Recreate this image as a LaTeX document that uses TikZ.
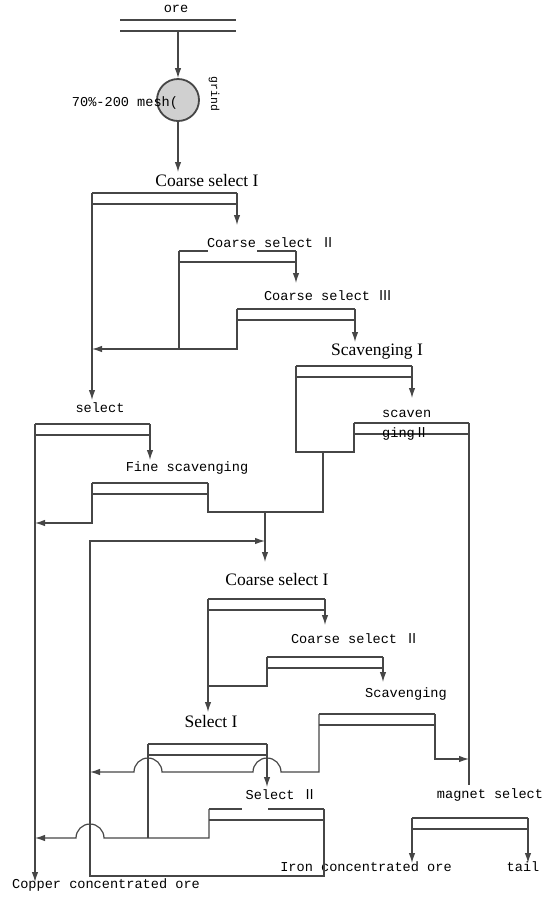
\documentclass[tikz,border=0pt]{standalone}
\usepackage{fontspec}
\setmainfont{Liberation Serif}
\setmonofont{Liberation Mono}
\newfontfamily\cjk{Noto Sans CJK SC}
\usepackage{tikz}
\usetikzlibrary{arrows.meta}

\definecolor{linegray}{RGB}{70,70,70}
\definecolor{millgray}{RGB}{208,208,208}

\begin{document}
\begin{tikzpicture}[x=1pt, y=-1pt, >={Latex[length=10pt,width=6.5pt]},
  flow/.style={draw=linegray, line width=1.2pt},
  cellline/.style={draw=linegray, line width=1.8pt},
  mono/.style={font=\ttfamily\fontsize{13.6}{15}\selectfont, inner sep=0pt},
  serif/.style={font=\rmfamily\fontsize{17.5}{19}\selectfont, inner sep=0pt}]

\useasboundingbox (0,0) rectangle (549,906);

% Cells: name / left / right / top / gap from / gap to
\foreach \n/\xa/\xb/\y/\ga/\gb in {ore/120/236/20/236/236, csA/92/237/193/237/237,
    csB/179/296/251/208/257, csC/237/355/309/355/355, scA/296/412/366/412/412,
    scB/354/469/423/469/469, sel/35/150/424/150/150, fsc/92/208/483/208/208,
    rcA/208/325/599/325/325, rcB/267/383/657/383/383, rsc/319/435/714/435/435,
    slA/148/267/744/267/267, slB/209/324/809/242/268, mag/412/528/818/528/528} {
  \coordinate (\n-l) at (\xa,\y);
  \coordinate (\n-r) at (\xb,\y);
  \draw[cellline] (\xa,\y) -- (\ga,\y) (\gb,\y) -- (\xb,\y);
  \draw[cellline] (\xa,\y+11) -- (\xb,\y+11);
}

% Mill
\node[circle, draw=linegray, fill=millgray, line width=1.8pt, minimum size=42pt, inner sep=0pt] (mill) at (178,100) {};

% Labels
\node[mono] (lore) at (176,9) {ore};
\node[mono] (lmesh) at (125,103) {70\%-200 mesh(};
\node[mono, font=\ttfamily\fontsize{11.5}{12}\selectfont, rotate=-90] (lgrind) at (214,94) {grind};
\node[serif] (lcsA) at (207,181) {Coarse select I};
\node[mono] (lcsB) at (271,243) {Coarse select {\cjk Ⅱ}};
\node[mono] (lcsC) at (328,296) {Coarse select {\cjk Ⅲ}};
\node[serif] (lscA) at (377,352) {Scavenging I};
\node[mono, anchor=west] (lscB1) at (382,414) {scaven};
\node[mono, anchor=west] (lscB2) at (382,434) {ging{\cjk Ⅱ}};
\node[mono] (lsel) at (100,408) {select};
\node[mono] (lfsc) at (187,468) {Fine scavenging};
\node[serif] (lrcA) at (277,580) {Coarse select I};
\node[mono] (lrcB) at (355,639) {Coarse select {\cjk Ⅱ}};
\node[mono] (lrsc) at (406,694) {Scavenging};
\node[serif] (lslA) at (211,722) {Select I};
\node[mono] (lslB) at (281,795) {Select {\cjk Ⅱ}};
\node[mono] (lmag) at (490,795) {magnet select};
\node[mono] (lfe) at (366,867) {Iron concentrated ore};
\node[mono] (ltail) at (523,867) {tail};
\node[mono] (lcu) at (106,885) {Copper concentrated ore};

% Ends and joints
\coordinate (ore-o) at (178,31);
\coordinate (t-csA) at (178,172);
\coordinate (t-csB) at (237,225);
\coordinate (t-csC) at (296,283);
\coordinate (t-scA) at (355,342);
\coordinate (t-scB) at (412,398);
\coordinate (t-sel) at (92,400);
\coordinate (t-ret1) at (92,349);
\coordinate (t-fsc) at (150,460);
\coordinate (t-cu) at (35,882);
\coordinate (t-fr) at (35,523);
\coordinate (j-scA) at (296,452);
\coordinate (j-scT) at (323,452);
\coordinate (j-tail) at (323,512);
\coordinate (j-mid) at (265,512);
\coordinate (t-rcA) at (265,562);
\coordinate (t-mag) at (469,785);
\coordinate (j-ret) at (90,876);
\coordinate (t-ret2) at (265,541);
\coordinate (t-rcB) at (325,625);
\coordinate (t-slA) at (208,712);
\coordinate (j-rcB) at (208,686);
\coordinate (t-rsc) at (383,682);
\coordinate (t-sc2m) at (469,759);
\coordinate (h1) at (281,772);
\coordinate (h2) at (162,772);
\coordinate (t-ret3) at (90,772);
\coordinate (t-slB) at (267,787);
\coordinate (j-slA) at (148,838);
\coordinate (h3) at (104,838);
\coordinate (t-cu2) at (35,838);
\coordinate (t-fe) at (412,863);
\coordinate (t-tail) at (528,863);

% Flows
\draw[flow,->] (ore-o) -- (mill);
\draw[flow,->] (mill) -- (t-csA);
\draw[flow,->] (csA-r) -- (t-csB);
\draw[flow,->] (csB-r) -- (t-csC);
\draw[flow,->] (csC-r) -- (t-scA);
\draw[flow,->] (scA-r) -- (t-scB);
\draw[flow,->] (csA-l) -- (t-sel);
\draw[flow,->] (csC-l) |- (t-ret1);
\draw[flow] (csB-l) -- (csB-l |- t-ret1);
\draw[flow,->] (sel-r) -- (t-fsc);
\draw[flow,->] (sel-l) -- (t-cu);
\draw[flow,->] (fsc-l) |- (t-fr);
\draw[flow] (scA-l) -- (j-scA) -| (scB-l);
\draw[flow] (fsc-r) |- (j-tail) -- (j-scT);
\draw[flow,->] (j-mid) -- (t-rcA);
\draw[flow] (scB-r) -- (t-mag);
\draw[flow,->] (slB-r) |- (j-ret) |- (t-ret2);
\draw[flow,->] (rcA-r) -- (t-rcB);
\draw[flow,->] (rcA-l) -- (t-slA);
\draw[flow] (rcB-l) |- (j-rcB);
\draw[flow,->] (rcB-r) -- (t-rsc);
\draw[flow,->] (rsc-r) |- (t-sc2m);
\draw[flow,->] (rsc-l) |- (h1) arc[start angle=0, end angle=180, radius=14pt]
  -- (h2) arc[start angle=0, end angle=180, radius=14pt] -- (t-ret3);
\draw[flow,->] (slA-r) -- (t-slB);
\draw[flow] (slA-l) -- (j-slA);
\draw[flow,->] (slB-l) |- (h3) arc[start angle=0, end angle=180, radius=14pt] -- (t-cu2);
\draw[flow,->] (mag-l) -- (t-fe);
\draw[flow,->] (mag-r) -- (t-tail);

\end{tikzpicture}
\end{document}
